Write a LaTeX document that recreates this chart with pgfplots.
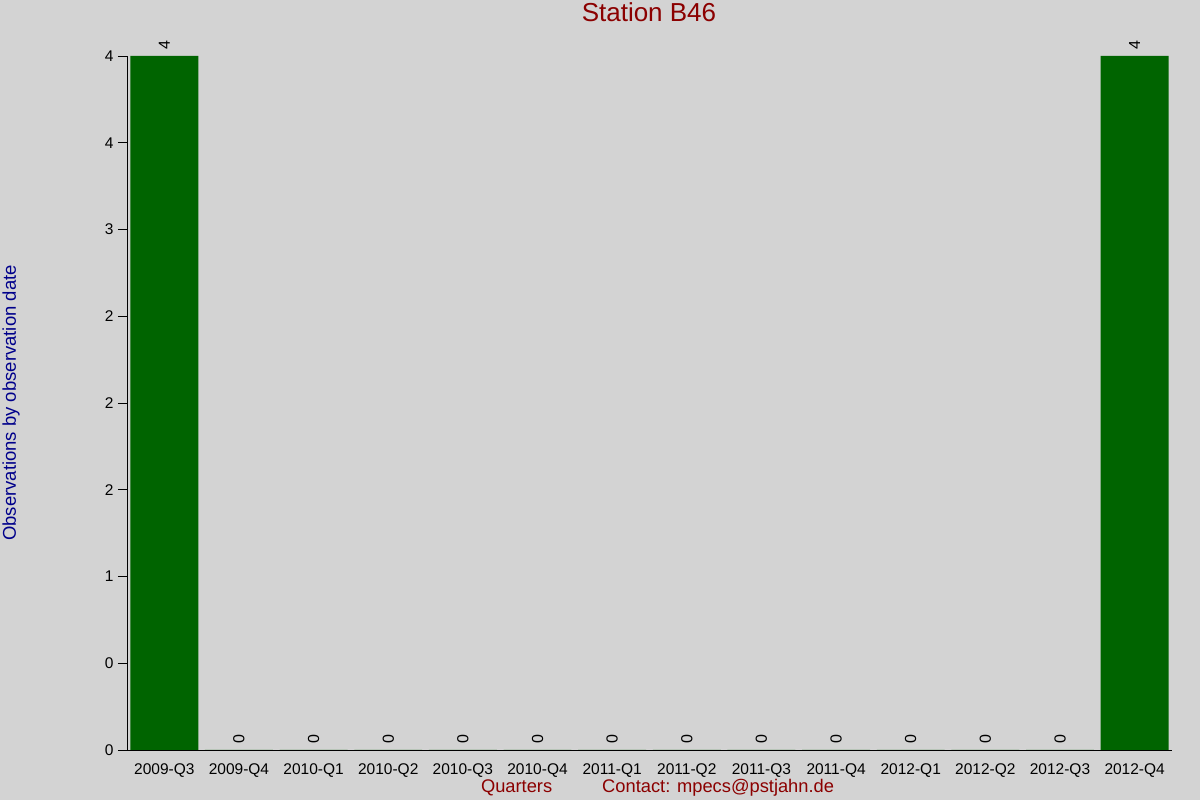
\documentclass[border=0pt]{standalone}
\usepackage{pgfplots}
\pgfplotsset{compat=1.18}
\usepackage{fontspec}
\setmainfont{Liberation Sans}
\definecolor{bggray}{RGB}{211,211,211}
\definecolor{bargreen}{RGB}{0,100,0}
\definecolor{titlered}{RGB}{139,0,0}
\definecolor{labelblue}{RGB}{0,0,139}
\begin{document}
\begin{tikzpicture}[x=1pt,y=1pt]
\path[use as bounding box, fill=bggray] (-127,-50) rectangle (1073,750);
\begin{axis}[
  at={(0,0)}, anchor=south west,
  scale only axis,
  width=1045pt, height=694pt,
  ymin=0, ymax=4,
  xmin=-0.5, xmax=13.5,
  axis x line*=bottom, axis y line*=left,
  axis line style={black, line width=0.8pt},
  ybar, bar width=0.91, bar shift=0pt,
  xtick=data,
  xticklabels={2009-Q3,2009-Q4,2010-Q1,2010-Q2,2010-Q3,2010-Q4,2011-Q1,2011-Q2,2011-Q3,2011-Q4,2012-Q1,2012-Q2,2012-Q3,2012-Q4},
  ytick={0,0.5,1,1.5,2,2.5,3,3.5,4},
  yticklabels={0,0,1,2,2,2,3,4,4},
  tick align=outside,
  major x tick style={draw=none},
  major y tick style={black, line width=0.8pt},
  major tick length=9pt,
  /pgf/number format/assume math mode=true,
  ticklabel style={font=\fontsize{15.5}{18}\selectfont, text=black},
  xticklabel style={yshift=-1pt},
  yticklabel style={xshift=-1pt},
  nodes near coords,
  every node near coord/.append style={rotate=90, anchor=west, inner sep=0pt, inner xsep=6pt, font=\fontsize{16}{18}\selectfont, text=black},
  title={Station B46},
  title style={at={(axis description cs:0.4995,1.055)}, anchor=center, font=\fontsize{26}{30}\selectfont, text=titlered},
  ylabel={Observations by observation date},
  ylabel style={at={(axis description cs:-0.111,0.5)}, anchor=center, rotate=0, font=\fontsize{18.5}{22}\selectfont, text=labelblue},
  xlabel={Quarters\hspace{50pt}Contact: mpecs@pstjahn.de},
  xlabel style={at={(axis description cs:0.5077,-0.0548)}, anchor=center, font=\fontsize{18.3}{22}\selectfont, text=titlered},
]
\addplot[fill=bargreen, draw=none] coordinates {
  (0,4) (1,0) (2,0) (3,0) (4,0) (5,0) (6,0) (7,0) (8,0) (9,0) (10,0) (11,0) (12,0) (13,4)
};
\end{axis}
\end{tikzpicture}
\end{document}
